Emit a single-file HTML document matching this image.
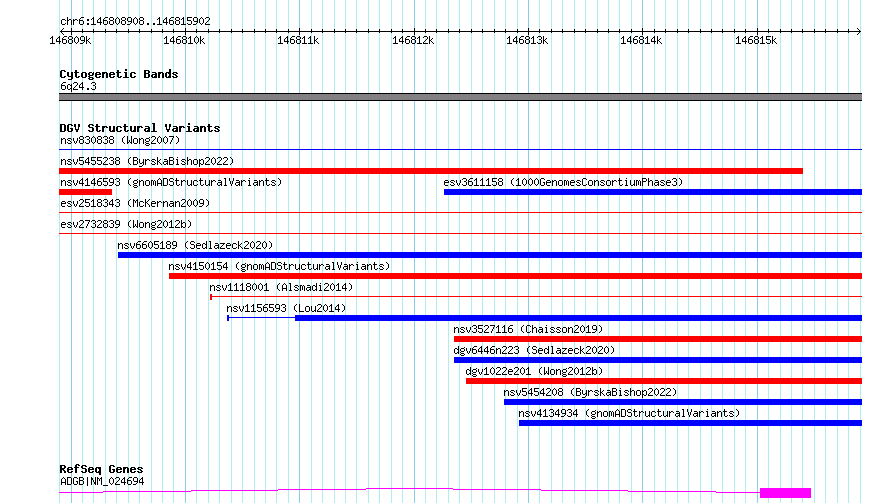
<!DOCTYPE html>
<html><head><meta charset="utf-8"><style>
html,body{margin:0;padding:0;background:#fff;width:890px;height:503px;overflow:hidden}
svg{display:block}
text{font-family:"Liberation Mono",monospace;font-size:11.75px;fill:#000}
text.h{fill-opacity:0}
text.b{font-weight:bold;font-size:11.75px}
</style></head><body>
<svg width="890" height="503" viewBox="0 0 890 503" shape-rendering="crispEdges" style="text-rendering:geometricPrecision">
<defs><path id="g40" d="M3 2h1v1h-1zM2 3h1v1h-1zM1 4h1v1h-1zM1 5h1v1h-1zM1 6h1v1h-1zM1 7h1v1h-1zM2 8h1v1h-1zM3 9h1v1h-1z"/><path id="g41" d="M1 2h1v1h-1zM2 3h1v1h-1zM3 4h1v1h-1zM3 5h1v1h-1zM3 6h1v1h-1zM3 7h1v1h-1zM2 8h1v1h-1zM1 9h1v1h-1z"/><path id="g46" d="M2 8h2v1h-2zM2 9h2v1h-2z"/><path id="g48" d="M2 2h1v1h-1zM1 3h1v1h-1zM3 3h1v1h-1zM0 4h1v1h-1zM4 4h1v1h-1zM0 5h1v1h-1zM4 5h1v1h-1zM0 6h1v1h-1zM4 6h1v1h-1zM0 7h1v1h-1zM4 7h1v1h-1zM1 8h1v1h-1zM3 8h1v1h-1zM2 9h1v1h-1z"/><path id="g49" d="M2 2h1v1h-1zM1 3h2v1h-2zM0 4h1v1h-1zM2 4h1v1h-1zM2 5h1v1h-1zM2 6h1v1h-1zM2 7h1v1h-1zM2 8h1v1h-1zM0 9h5v1h-5z"/><path id="g50" d="M1 2h3v1h-3zM0 3h1v1h-1zM4 3h1v1h-1zM4 4h1v1h-1zM3 5h1v1h-1zM2 6h1v1h-1zM1 7h1v1h-1zM0 8h1v1h-1zM0 9h5v1h-5z"/><path id="g51" d="M1 2h3v1h-3zM0 3h1v1h-1zM4 3h1v1h-1zM4 4h1v1h-1zM2 5h2v1h-2zM4 6h1v1h-1zM4 7h1v1h-1zM0 8h1v1h-1zM4 8h1v1h-1zM1 9h3v1h-3z"/><path id="g52" d="M3 2h1v1h-1zM2 3h2v1h-2zM1 4h1v1h-1zM3 4h1v1h-1zM0 5h1v1h-1zM3 5h1v1h-1zM0 6h1v1h-1zM3 6h1v1h-1zM0 7h5v1h-5zM3 8h1v1h-1zM3 9h1v1h-1z"/><path id="g53" d="M0 2h5v1h-5zM0 3h1v1h-1zM0 4h1v1h-1zM0 5h4v1h-4zM4 6h1v1h-1zM4 7h1v1h-1zM0 8h1v1h-1zM4 8h1v1h-1zM1 9h3v1h-3z"/><path id="g54" d="M2 2h3v1h-3zM1 3h1v1h-1zM0 4h1v1h-1zM0 5h4v1h-4zM0 6h1v1h-1zM4 6h1v1h-1zM0 7h1v1h-1zM4 7h1v1h-1zM0 8h1v1h-1zM4 8h1v1h-1zM1 9h3v1h-3z"/><path id="g55" d="M0 2h5v1h-5zM4 3h1v1h-1zM3 4h1v1h-1zM3 5h1v1h-1zM2 6h1v1h-1zM2 7h1v1h-1zM1 8h1v1h-1zM1 9h1v1h-1z"/><path id="g56" d="M1 2h3v1h-3zM0 3h1v1h-1zM4 3h1v1h-1zM0 4h1v1h-1zM4 4h1v1h-1zM1 5h3v1h-3zM0 6h1v1h-1zM4 6h1v1h-1zM0 7h1v1h-1zM4 7h1v1h-1zM0 8h1v1h-1zM4 8h1v1h-1zM1 9h3v1h-3z"/><path id="g57" d="M1 2h3v1h-3zM0 3h1v1h-1zM4 3h1v1h-1zM0 4h1v1h-1zM4 4h1v1h-1zM0 5h1v1h-1zM4 5h1v1h-1zM1 6h4v1h-4zM4 7h1v1h-1zM3 8h1v1h-1zM0 9h3v1h-3z"/><path id="g58" d="M2 4h2v1h-2zM2 5h2v1h-2zM2 8h2v1h-2zM2 9h2v1h-2z"/><path id="g65" d="M2 2h1v1h-1zM1 3h1v1h-1zM3 3h1v1h-1zM0 4h1v1h-1zM4 4h1v1h-1zM0 5h1v1h-1zM4 5h1v1h-1zM0 6h1v1h-1zM4 6h1v1h-1zM0 7h5v1h-5zM0 8h1v1h-1zM4 8h1v1h-1zM0 9h1v1h-1zM4 9h1v1h-1z"/><path id="g66" d="M0 2h4v1h-4zM0 3h1v1h-1zM4 3h1v1h-1zM0 4h1v1h-1zM4 4h1v1h-1zM0 5h4v1h-4zM0 6h1v1h-1zM4 6h1v1h-1zM0 7h1v1h-1zM4 7h1v1h-1zM0 8h1v1h-1zM4 8h1v1h-1zM0 9h4v1h-4z"/><path id="g67" d="M1 2h3v1h-3zM0 3h1v1h-1zM4 3h1v1h-1zM0 4h1v1h-1zM0 5h1v1h-1zM0 6h1v1h-1zM0 7h1v1h-1zM0 8h1v1h-1zM4 8h1v1h-1zM1 9h3v1h-3z"/><path id="g68" d="M0 2h4v1h-4zM0 3h1v1h-1zM4 3h1v1h-1zM0 4h1v1h-1zM4 4h1v1h-1zM0 5h1v1h-1zM4 5h1v1h-1zM0 6h1v1h-1zM4 6h1v1h-1zM0 7h1v1h-1zM4 7h1v1h-1zM0 8h1v1h-1zM4 8h1v1h-1zM0 9h4v1h-4z"/><path id="g71" d="M1 2h3v1h-3zM0 3h1v1h-1zM4 3h1v1h-1zM0 4h1v1h-1zM0 5h1v1h-1zM0 6h1v1h-1zM3 6h2v1h-2zM0 7h1v1h-1zM4 7h1v1h-1zM0 8h1v1h-1zM4 8h1v1h-1zM1 9h3v1h-3z"/><path id="g75" d="M0 2h1v1h-1zM4 2h1v1h-1zM0 3h1v1h-1zM3 3h1v1h-1zM0 4h1v1h-1zM2 4h1v1h-1zM0 5h2v1h-2zM0 6h1v1h-1zM2 6h1v1h-1zM0 7h1v1h-1zM3 7h1v1h-1zM0 8h1v1h-1zM4 8h1v1h-1zM0 9h1v1h-1zM4 9h1v1h-1z"/><path id="g76" d="M0 2h1v1h-1zM0 3h1v1h-1zM0 4h1v1h-1zM0 5h1v1h-1zM0 6h1v1h-1zM0 7h1v1h-1zM0 8h1v1h-1zM0 9h5v1h-5z"/><path id="g77" d="M0 2h1v1h-1zM4 2h1v1h-1zM0 3h2v1h-2zM3 3h2v1h-2zM0 4h1v1h-1zM2 4h1v1h-1zM4 4h1v1h-1zM0 5h1v1h-1zM2 5h1v1h-1zM4 5h1v1h-1zM0 6h1v1h-1zM4 6h1v1h-1zM0 7h1v1h-1zM4 7h1v1h-1zM0 8h1v1h-1zM4 8h1v1h-1zM0 9h1v1h-1zM4 9h1v1h-1z"/><path id="g78" d="M0 2h1v1h-1zM4 2h1v1h-1zM0 3h2v1h-2zM4 3h1v1h-1zM0 4h2v1h-2zM4 4h1v1h-1zM0 5h1v1h-1zM2 5h1v1h-1zM4 5h1v1h-1zM0 6h1v1h-1zM2 6h1v1h-1zM4 6h1v1h-1zM0 7h1v1h-1zM3 7h2v1h-2zM0 8h1v1h-1zM3 8h2v1h-2zM0 9h1v1h-1zM4 9h1v1h-1z"/><path id="g80" d="M0 2h4v1h-4zM0 3h1v1h-1zM4 3h1v1h-1zM0 4h1v1h-1zM4 4h1v1h-1zM0 5h4v1h-4zM0 6h1v1h-1zM0 7h1v1h-1zM0 8h1v1h-1zM0 9h1v1h-1z"/><path id="g83" d="M1 2h3v1h-3zM0 3h1v1h-1zM4 3h1v1h-1zM0 4h1v1h-1zM1 5h3v1h-3zM4 6h1v1h-1zM4 7h1v1h-1zM0 8h1v1h-1zM4 8h1v1h-1zM1 9h3v1h-3z"/><path id="g86" d="M0 2h1v1h-1zM4 2h1v1h-1zM0 3h1v1h-1zM4 3h1v1h-1zM0 4h1v1h-1zM4 4h1v1h-1zM1 5h1v1h-1zM3 5h1v1h-1zM1 6h1v1h-1zM3 6h1v1h-1zM1 7h1v1h-1zM3 7h1v1h-1zM2 8h1v1h-1zM2 9h1v1h-1z"/><path id="g87" d="M0 2h1v1h-1zM4 2h1v1h-1zM0 3h1v1h-1zM4 3h1v1h-1zM0 4h1v1h-1zM4 4h1v1h-1zM0 5h1v1h-1zM4 5h1v1h-1zM0 6h1v1h-1zM2 6h1v1h-1zM4 6h1v1h-1zM0 7h1v1h-1zM2 7h1v1h-1zM4 7h1v1h-1zM0 8h2v1h-2zM3 8h2v1h-2zM0 9h1v1h-1zM4 9h1v1h-1z"/><path id="g95" d="M0 10h5v1h-5z"/><path id="g97" d="M1 4h3v1h-3zM4 5h1v1h-1zM1 6h4v1h-4zM0 7h1v1h-1zM4 7h1v1h-1zM0 8h1v1h-1zM3 8h2v1h-2zM1 9h2v1h-2zM4 9h1v1h-1z"/><path id="g98" d="M0 2h1v1h-1zM0 3h1v1h-1zM0 4h1v1h-1zM2 4h2v1h-2zM0 5h2v1h-2zM4 5h1v1h-1zM0 6h1v1h-1zM4 6h1v1h-1zM0 7h1v1h-1zM4 7h1v1h-1zM0 8h2v1h-2zM4 8h1v1h-1zM0 9h1v1h-1zM2 9h2v1h-2z"/><path id="g99" d="M1 4h3v1h-3zM0 5h1v1h-1zM4 5h1v1h-1zM0 6h1v1h-1zM0 7h1v1h-1zM0 8h1v1h-1zM4 8h1v1h-1zM1 9h3v1h-3z"/><path id="g100" d="M4 2h1v1h-1zM4 3h1v1h-1zM1 4h2v1h-2zM4 4h1v1h-1zM0 5h1v1h-1zM3 5h2v1h-2zM0 6h1v1h-1zM4 6h1v1h-1zM0 7h1v1h-1zM4 7h1v1h-1zM0 8h1v1h-1zM3 8h2v1h-2zM1 9h2v1h-2zM4 9h1v1h-1z"/><path id="g101" d="M1 4h3v1h-3zM0 5h1v1h-1zM4 5h1v1h-1zM0 6h5v1h-5zM0 7h1v1h-1zM0 8h1v1h-1zM1 9h3v1h-3z"/><path id="g103" d="M4 3h1v1h-1zM1 4h3v1h-3zM0 5h1v1h-1zM4 5h1v1h-1zM0 6h1v1h-1zM4 6h1v1h-1zM1 7h3v1h-3zM0 8h1v1h-1zM1 9h3v1h-3zM0 10h1v1h-1zM4 10h1v1h-1zM1 11h3v1h-3z"/><path id="g104" d="M0 2h1v1h-1zM0 3h1v1h-1zM0 4h1v1h-1zM2 4h2v1h-2zM0 5h2v1h-2zM4 5h1v1h-1zM0 6h1v1h-1zM4 6h1v1h-1zM0 7h1v1h-1zM4 7h1v1h-1zM0 8h1v1h-1zM4 8h1v1h-1zM0 9h1v1h-1zM4 9h1v1h-1z"/><path id="g105" d="M2 2h1v1h-1zM1 4h2v1h-2zM2 5h1v1h-1zM2 6h1v1h-1zM2 7h1v1h-1zM2 8h1v1h-1zM1 9h3v1h-3z"/><path id="g107" d="M0 2h1v1h-1zM0 3h1v1h-1zM0 4h1v1h-1zM3 4h1v1h-1zM0 5h1v1h-1zM2 5h1v1h-1zM0 6h2v1h-2zM0 7h1v1h-1zM2 7h1v1h-1zM0 8h1v1h-1zM3 8h1v1h-1zM0 9h1v1h-1zM4 9h1v1h-1z"/><path id="g108" d="M1 2h2v1h-2zM2 3h1v1h-1zM2 4h1v1h-1zM2 5h1v1h-1zM2 6h1v1h-1zM2 7h1v1h-1zM2 8h1v1h-1zM1 9h3v1h-3z"/><path id="g109" d="M0 4h2v1h-2zM3 4h1v1h-1zM0 5h1v1h-1zM2 5h1v1h-1zM4 5h1v1h-1zM0 6h1v1h-1zM2 6h1v1h-1zM4 6h1v1h-1zM0 7h1v1h-1zM2 7h1v1h-1zM4 7h1v1h-1zM0 8h1v1h-1zM2 8h1v1h-1zM4 8h1v1h-1zM0 9h1v1h-1zM4 9h1v1h-1z"/><path id="g110" d="M0 4h1v1h-1zM2 4h2v1h-2zM0 5h2v1h-2zM4 5h1v1h-1zM0 6h1v1h-1zM4 6h1v1h-1zM0 7h1v1h-1zM4 7h1v1h-1zM0 8h1v1h-1zM4 8h1v1h-1zM0 9h1v1h-1zM4 9h1v1h-1z"/><path id="g111" d="M1 4h3v1h-3zM0 5h1v1h-1zM4 5h1v1h-1zM0 6h1v1h-1zM4 6h1v1h-1zM0 7h1v1h-1zM4 7h1v1h-1zM0 8h1v1h-1zM4 8h1v1h-1zM1 9h3v1h-3z"/><path id="g112" d="M0 4h1v1h-1zM2 4h2v1h-2zM0 5h2v1h-2zM4 5h1v1h-1zM0 6h1v1h-1zM4 6h1v1h-1zM0 7h1v1h-1zM4 7h1v1h-1zM0 8h2v1h-2zM4 8h1v1h-1zM0 9h1v1h-1zM2 9h2v1h-2zM0 10h1v1h-1zM0 11h1v1h-1z"/><path id="g113" d="M1 4h2v1h-2zM4 4h1v1h-1zM0 5h1v1h-1zM3 5h2v1h-2zM0 6h1v1h-1zM4 6h1v1h-1zM0 7h1v1h-1zM4 7h1v1h-1zM0 8h1v1h-1zM3 8h2v1h-2zM1 9h2v1h-2zM4 9h1v1h-1zM4 10h1v1h-1zM4 11h1v1h-1z"/><path id="g114" d="M0 4h1v1h-1zM2 4h2v1h-2zM0 5h2v1h-2zM4 5h1v1h-1zM0 6h1v1h-1zM0 7h1v1h-1zM0 8h1v1h-1zM0 9h1v1h-1z"/><path id="g115" d="M1 4h3v1h-3zM0 5h1v1h-1zM4 5h1v1h-1zM1 6h2v1h-2zM3 7h1v1h-1zM0 8h1v1h-1zM4 8h1v1h-1zM1 9h3v1h-3z"/><path id="g116" d="M1 2h1v1h-1zM1 3h1v1h-1zM0 4h4v1h-4zM1 5h1v1h-1zM1 6h1v1h-1zM1 7h1v1h-1zM1 8h1v1h-1zM4 8h1v1h-1zM2 9h2v1h-2z"/><path id="g117" d="M0 4h1v1h-1zM4 4h1v1h-1zM0 5h1v1h-1zM4 5h1v1h-1zM0 6h1v1h-1zM4 6h1v1h-1zM0 7h1v1h-1zM4 7h1v1h-1zM0 8h1v1h-1zM3 8h2v1h-2zM1 9h2v1h-2zM4 9h1v1h-1z"/><path id="g118" d="M0 4h1v1h-1zM4 4h1v1h-1zM0 5h1v1h-1zM4 5h1v1h-1zM0 6h1v1h-1zM4 6h1v1h-1zM1 7h1v1h-1zM3 7h1v1h-1zM1 8h1v1h-1zM3 8h1v1h-1zM2 9h1v1h-1z"/><path id="g121" d="M0 4h1v1h-1zM4 4h1v1h-1zM0 5h1v1h-1zM4 5h1v1h-1zM0 6h1v1h-1zM4 6h1v1h-1zM0 7h1v1h-1zM3 7h2v1h-2zM1 8h2v1h-2zM4 8h1v1h-1zM4 9h1v1h-1zM3 10h1v1h-1zM0 11h3v1h-3z"/><path id="g122" d="M0 4h5v1h-5zM3 5h1v1h-1zM2 6h1v1h-1zM1 7h1v1h-1zM0 8h1v1h-1zM0 9h5v1h-5z"/><path id="g124" d="M2 2h1v1h-1zM2 3h1v1h-1zM2 4h1v1h-1zM2 5h1v1h-1zM2 6h1v1h-1zM2 7h1v1h-1zM2 8h1v1h-1zM2 9h1v1h-1zM2 10h1v1h-1z"/><path id="b66" d="M0 2h5v1h-5zM0 3h2v1h-2zM4 3h2v1h-2zM0 4h2v1h-2zM4 4h2v1h-2zM0 5h5v1h-5zM0 6h2v1h-2zM4 6h2v1h-2zM0 7h2v1h-2zM4 7h2v1h-2zM0 8h2v1h-2zM4 8h2v1h-2zM0 9h5v1h-5z"/><path id="b67" d="M1 2h4v1h-4zM0 3h2v1h-2zM4 3h2v1h-2zM0 4h2v1h-2zM0 5h2v1h-2zM0 6h2v1h-2zM0 7h2v1h-2zM0 8h2v1h-2zM4 8h2v1h-2zM1 9h4v1h-4z"/><path id="b68" d="M0 2h5v1h-5zM0 3h2v1h-2zM4 3h2v1h-2zM0 4h2v1h-2zM4 4h2v1h-2zM0 5h2v1h-2zM4 5h2v1h-2zM0 6h2v1h-2zM4 6h2v1h-2zM0 7h2v1h-2zM4 7h2v1h-2zM0 8h2v1h-2zM4 8h2v1h-2zM0 9h5v1h-5z"/><path id="b71" d="M1 2h4v1h-4zM0 3h2v1h-2zM4 3h2v1h-2zM0 4h2v1h-2zM0 5h2v1h-2zM0 6h2v1h-2zM3 6h3v1h-3zM0 7h2v1h-2zM4 7h2v1h-2zM0 8h2v1h-2zM4 8h2v1h-2zM1 9h4v1h-4z"/><path id="b82" d="M0 2h5v1h-5zM0 3h2v1h-2zM4 3h2v1h-2zM0 4h2v1h-2zM4 4h2v1h-2zM0 5h5v1h-5zM0 6h4v1h-4zM0 7h2v1h-2zM3 7h2v1h-2zM0 8h2v1h-2zM4 8h2v1h-2zM0 9h2v1h-2zM4 9h2v1h-2z"/><path id="b83" d="M1 2h4v1h-4zM0 3h2v1h-2zM4 3h2v1h-2zM0 4h2v1h-2zM1 5h4v1h-4zM4 6h2v1h-2zM4 7h2v1h-2zM0 8h2v1h-2zM4 8h2v1h-2zM1 9h4v1h-4z"/><path id="b86" d="M0 2h2v1h-2zM4 2h2v1h-2zM0 3h2v1h-2zM4 3h2v1h-2zM0 4h2v1h-2zM4 4h2v1h-2zM1 5h1v1h-1zM4 5h1v1h-1zM1 6h1v1h-1zM4 6h1v1h-1zM1 7h4v1h-4zM2 8h2v1h-2zM2 9h2v1h-2z"/><path id="b97" d="M1 4h4v1h-4zM4 5h2v1h-2zM1 6h5v1h-5zM0 7h2v1h-2zM4 7h2v1h-2zM0 8h2v1h-2zM3 8h3v1h-3zM1 9h5v1h-5z"/><path id="b99" d="M1 4h4v1h-4zM0 5h2v1h-2zM4 5h2v1h-2zM0 6h2v1h-2zM0 7h2v1h-2zM0 8h2v1h-2zM4 8h2v1h-2zM1 9h4v1h-4z"/><path id="b100" d="M4 1h2v1h-2zM4 2h2v1h-2zM4 3h2v1h-2zM1 4h5v1h-5zM0 5h2v1h-2zM3 5h3v1h-3zM0 6h2v1h-2zM4 6h2v1h-2zM0 7h2v1h-2zM4 7h2v1h-2zM0 8h2v1h-2zM3 8h3v1h-3zM1 9h5v1h-5z"/><path id="b101" d="M1 4h4v1h-4zM0 5h2v1h-2zM4 5h2v1h-2zM0 6h6v1h-6zM0 7h2v1h-2zM0 8h2v1h-2zM4 8h2v1h-2zM1 9h4v1h-4z"/><path id="b102" d="M2 1h3v1h-3zM1 2h2v1h-2zM4 2h2v1h-2zM1 3h2v1h-2zM0 4h5v1h-5zM1 5h2v1h-2zM1 6h2v1h-2zM1 7h2v1h-2zM1 8h2v1h-2zM1 9h2v1h-2z"/><path id="b103" d="M1 4h3v1h-3zM5 4h1v1h-1zM0 5h2v1h-2zM4 5h2v1h-2zM0 6h2v1h-2zM4 6h2v1h-2zM1 7h4v1h-4zM0 8h2v1h-2zM1 9h4v1h-4zM0 10h2v1h-2zM4 10h2v1h-2zM1 11h4v1h-4z"/><path id="b105" d="M2 1h2v1h-2zM2 2h2v1h-2zM1 4h3v1h-3zM2 5h2v1h-2zM2 6h2v1h-2zM2 7h2v1h-2zM2 8h2v1h-2zM0 9h6v1h-6z"/><path id="b108" d="M1 1h3v1h-3zM2 2h2v1h-2zM2 3h2v1h-2zM2 4h2v1h-2zM2 5h2v1h-2zM2 6h2v1h-2zM2 7h2v1h-2zM2 8h2v1h-2zM0 9h6v1h-6z"/><path id="b110" d="M0 4h5v1h-5zM0 5h3v1h-3zM4 5h2v1h-2zM0 6h2v1h-2zM4 6h2v1h-2zM0 7h2v1h-2zM4 7h2v1h-2zM0 8h2v1h-2zM4 8h2v1h-2zM0 9h2v1h-2zM4 9h2v1h-2z"/><path id="b111" d="M1 4h4v1h-4zM0 5h2v1h-2zM4 5h2v1h-2zM0 6h2v1h-2zM4 6h2v1h-2zM0 7h2v1h-2zM4 7h2v1h-2zM0 8h2v1h-2zM4 8h2v1h-2zM1 9h4v1h-4z"/><path id="b113" d="M1 4h5v1h-5zM0 5h2v1h-2zM3 5h3v1h-3zM0 6h2v1h-2zM4 6h2v1h-2zM0 7h2v1h-2zM4 7h2v1h-2zM0 8h2v1h-2zM3 8h3v1h-3zM1 9h5v1h-5zM4 10h2v1h-2zM4 11h2v1h-2z"/><path id="b114" d="M0 4h5v1h-5zM0 5h3v1h-3zM4 5h2v1h-2zM0 6h2v1h-2zM0 7h2v1h-2zM0 8h2v1h-2zM0 9h2v1h-2z"/><path id="b115" d="M1 4h4v1h-4zM0 5h2v1h-2zM4 5h2v1h-2zM1 6h3v1h-3zM3 7h2v1h-2zM0 8h2v1h-2zM4 8h2v1h-2zM1 9h4v1h-4z"/><path id="b116" d="M1 2h2v1h-2zM1 3h2v1h-2zM0 4h5v1h-5zM1 5h2v1h-2zM1 6h2v1h-2zM1 7h2v1h-2zM1 8h2v1h-2zM4 8h2v1h-2zM2 9h3v1h-3z"/><path id="b117" d="M0 4h2v1h-2zM4 4h2v1h-2zM0 5h2v1h-2zM4 5h2v1h-2zM0 6h2v1h-2zM4 6h2v1h-2zM0 7h2v1h-2zM4 7h2v1h-2zM0 8h2v1h-2zM3 8h3v1h-3zM1 9h5v1h-5z"/><path id="b121" d="M0 4h2v1h-2zM4 4h2v1h-2zM0 5h2v1h-2zM4 5h2v1h-2zM0 6h2v1h-2zM4 6h2v1h-2zM0 7h2v1h-2zM4 7h2v1h-2zM1 8h5v1h-5zM4 9h2v1h-2zM4 10h2v1h-2zM1 11h4v1h-4z"/></defs>
<rect x="0" y="0" width="890" height="503" fill="#fff"/>
<rect x="59" y="0" width="1" height="503" fill="#afeeee"/><rect x="71" y="0" width="1" height="503" fill="#87ceeb"/><rect x="82" y="0" width="1" height="503" fill="#afeeee"/><rect x="93" y="0" width="1" height="503" fill="#afeeee"/><rect x="105" y="0" width="1" height="503" fill="#afeeee"/><rect x="116" y="0" width="1" height="503" fill="#afeeee"/><rect x="128" y="0" width="1" height="503" fill="#afeeee"/><rect x="139" y="0" width="1" height="503" fill="#afeeee"/><rect x="151" y="0" width="1" height="503" fill="#afeeee"/><rect x="162" y="0" width="1" height="503" fill="#afeeee"/><rect x="173" y="0" width="1" height="503" fill="#afeeee"/><rect x="185" y="0" width="1" height="503" fill="#87ceeb"/><rect x="196" y="0" width="1" height="503" fill="#afeeee"/><rect x="208" y="0" width="1" height="503" fill="#afeeee"/><rect x="219" y="0" width="1" height="503" fill="#afeeee"/><rect x="231" y="0" width="1" height="503" fill="#afeeee"/><rect x="242" y="0" width="1" height="503" fill="#afeeee"/><rect x="254" y="0" width="1" height="503" fill="#afeeee"/><rect x="265" y="0" width="1" height="503" fill="#afeeee"/><rect x="276" y="0" width="1" height="503" fill="#afeeee"/><rect x="288" y="0" width="1" height="503" fill="#afeeee"/><rect x="299" y="0" width="1" height="503" fill="#87ceeb"/><rect x="311" y="0" width="1" height="503" fill="#afeeee"/><rect x="322" y="0" width="1" height="503" fill="#afeeee"/><rect x="334" y="0" width="1" height="503" fill="#afeeee"/><rect x="345" y="0" width="1" height="503" fill="#afeeee"/><rect x="356" y="0" width="1" height="503" fill="#afeeee"/><rect x="368" y="0" width="1" height="503" fill="#afeeee"/><rect x="379" y="0" width="1" height="503" fill="#afeeee"/><rect x="391" y="0" width="1" height="503" fill="#afeeee"/><rect x="402" y="0" width="1" height="503" fill="#afeeee"/><rect x="414" y="0" width="1" height="503" fill="#87ceeb"/><rect x="425" y="0" width="1" height="503" fill="#afeeee"/><rect x="436" y="0" width="1" height="503" fill="#afeeee"/><rect x="448" y="0" width="1" height="503" fill="#afeeee"/><rect x="459" y="0" width="1" height="503" fill="#afeeee"/><rect x="471" y="0" width="1" height="503" fill="#afeeee"/><rect x="482" y="0" width="1" height="503" fill="#afeeee"/><rect x="494" y="0" width="1" height="503" fill="#afeeee"/><rect x="505" y="0" width="1" height="503" fill="#afeeee"/><rect x="517" y="0" width="1" height="503" fill="#afeeee"/><rect x="528" y="0" width="1" height="503" fill="#87ceeb"/><rect x="539" y="0" width="1" height="503" fill="#afeeee"/><rect x="551" y="0" width="1" height="503" fill="#afeeee"/><rect x="562" y="0" width="1" height="503" fill="#afeeee"/><rect x="574" y="0" width="1" height="503" fill="#afeeee"/><rect x="585" y="0" width="1" height="503" fill="#afeeee"/><rect x="597" y="0" width="1" height="503" fill="#afeeee"/><rect x="608" y="0" width="1" height="503" fill="#afeeee"/><rect x="619" y="0" width="1" height="503" fill="#afeeee"/><rect x="631" y="0" width="1" height="503" fill="#afeeee"/><rect x="642" y="0" width="1" height="503" fill="#87ceeb"/><rect x="654" y="0" width="1" height="503" fill="#afeeee"/><rect x="665" y="0" width="1" height="503" fill="#afeeee"/><rect x="677" y="0" width="1" height="503" fill="#afeeee"/><rect x="688" y="0" width="1" height="503" fill="#afeeee"/><rect x="700" y="0" width="1" height="503" fill="#afeeee"/><rect x="711" y="0" width="1" height="503" fill="#afeeee"/><rect x="722" y="0" width="1" height="503" fill="#afeeee"/><rect x="734" y="0" width="1" height="503" fill="#afeeee"/><rect x="745" y="0" width="1" height="503" fill="#afeeee"/><rect x="757" y="0" width="1" height="503" fill="#87ceeb"/><rect x="768" y="0" width="1" height="503" fill="#afeeee"/><rect x="780" y="0" width="1" height="503" fill="#afeeee"/><rect x="791" y="0" width="1" height="503" fill="#afeeee"/><rect x="802" y="0" width="1" height="503" fill="#afeeee"/><rect x="814" y="0" width="1" height="503" fill="#afeeee"/><rect x="825" y="0" width="1" height="503" fill="#afeeee"/><rect x="837" y="0" width="1" height="503" fill="#afeeee"/><rect x="848" y="0" width="1" height="503" fill="#afeeee"/><rect x="860" y="0" width="1" height="503" fill="#afeeee"/><rect x="60" y="31" width="801" height="1" fill="#000"/><rect x="71" y="28" width="1" height="7" fill="#000"/><rect x="82" y="29" width="1" height="4" fill="#000"/><rect x="93" y="29" width="1" height="4" fill="#000"/><rect x="105" y="29" width="1" height="4" fill="#000"/><rect x="116" y="29" width="1" height="4" fill="#000"/><rect x="128" y="29" width="1" height="4" fill="#000"/><rect x="139" y="29" width="1" height="4" fill="#000"/><rect x="151" y="29" width="1" height="4" fill="#000"/><rect x="162" y="29" width="1" height="4" fill="#000"/><rect x="173" y="29" width="1" height="4" fill="#000"/><rect x="185" y="28" width="1" height="7" fill="#000"/><rect x="196" y="29" width="1" height="4" fill="#000"/><rect x="208" y="29" width="1" height="4" fill="#000"/><rect x="219" y="29" width="1" height="4" fill="#000"/><rect x="231" y="29" width="1" height="4" fill="#000"/><rect x="242" y="29" width="1" height="4" fill="#000"/><rect x="254" y="29" width="1" height="4" fill="#000"/><rect x="265" y="29" width="1" height="4" fill="#000"/><rect x="276" y="29" width="1" height="4" fill="#000"/><rect x="288" y="29" width="1" height="4" fill="#000"/><rect x="299" y="28" width="1" height="7" fill="#000"/><rect x="311" y="29" width="1" height="4" fill="#000"/><rect x="322" y="29" width="1" height="4" fill="#000"/><rect x="334" y="29" width="1" height="4" fill="#000"/><rect x="345" y="29" width="1" height="4" fill="#000"/><rect x="356" y="29" width="1" height="4" fill="#000"/><rect x="368" y="29" width="1" height="4" fill="#000"/><rect x="379" y="29" width="1" height="4" fill="#000"/><rect x="391" y="29" width="1" height="4" fill="#000"/><rect x="402" y="29" width="1" height="4" fill="#000"/><rect x="414" y="28" width="1" height="7" fill="#000"/><rect x="425" y="29" width="1" height="4" fill="#000"/><rect x="436" y="29" width="1" height="4" fill="#000"/><rect x="448" y="29" width="1" height="4" fill="#000"/><rect x="459" y="29" width="1" height="4" fill="#000"/><rect x="471" y="29" width="1" height="4" fill="#000"/><rect x="482" y="29" width="1" height="4" fill="#000"/><rect x="494" y="29" width="1" height="4" fill="#000"/><rect x="505" y="29" width="1" height="4" fill="#000"/><rect x="517" y="29" width="1" height="4" fill="#000"/><rect x="528" y="28" width="1" height="7" fill="#000"/><rect x="539" y="29" width="1" height="4" fill="#000"/><rect x="551" y="29" width="1" height="4" fill="#000"/><rect x="562" y="29" width="1" height="4" fill="#000"/><rect x="574" y="29" width="1" height="4" fill="#000"/><rect x="585" y="29" width="1" height="4" fill="#000"/><rect x="597" y="29" width="1" height="4" fill="#000"/><rect x="608" y="29" width="1" height="4" fill="#000"/><rect x="619" y="29" width="1" height="4" fill="#000"/><rect x="631" y="29" width="1" height="4" fill="#000"/><rect x="642" y="28" width="1" height="7" fill="#000"/><rect x="654" y="29" width="1" height="4" fill="#000"/><rect x="665" y="29" width="1" height="4" fill="#000"/><rect x="677" y="29" width="1" height="4" fill="#000"/><rect x="688" y="29" width="1" height="4" fill="#000"/><rect x="700" y="29" width="1" height="4" fill="#000"/><rect x="711" y="29" width="1" height="4" fill="#000"/><rect x="722" y="29" width="1" height="4" fill="#000"/><rect x="734" y="29" width="1" height="4" fill="#000"/><rect x="745" y="29" width="1" height="4" fill="#000"/><rect x="757" y="28" width="1" height="7" fill="#000"/><rect x="768" y="29" width="1" height="4" fill="#000"/><rect x="780" y="29" width="1" height="4" fill="#000"/><rect x="791" y="29" width="1" height="4" fill="#000"/><rect x="802" y="29" width="1" height="4" fill="#000"/><rect x="814" y="29" width="1" height="4" fill="#000"/><rect x="825" y="29" width="1" height="4" fill="#000"/><rect x="837" y="29" width="1" height="4" fill="#000"/><rect x="848" y="29" width="1" height="4" fill="#000"/><rect x="61" y="30" width="1" height="1" fill="#000"/><rect x="61" y="32" width="1" height="1" fill="#000"/><rect x="859" y="30" width="1" height="1" fill="#000"/><rect x="859" y="32" width="1" height="1" fill="#000"/><rect x="62" y="29" width="1" height="1" fill="#000"/><rect x="62" y="33" width="1" height="1" fill="#000"/><rect x="858" y="29" width="1" height="1" fill="#000"/><rect x="858" y="33" width="1" height="1" fill="#000"/><rect x="63" y="28" width="1" height="1" fill="#000"/><rect x="63" y="34" width="1" height="1" fill="#000"/><rect x="857" y="28" width="1" height="1" fill="#000"/><rect x="857" y="34" width="1" height="1" fill="#000"/><rect x="59" y="93" width="803" height="8" fill="#000"/><rect x="59" y="94" width="803" height="6" fill="#838083"/><rect x="59" y="149" width="803" height="1" fill="#0000ff"/><rect x="59" y="168" width="744" height="6" fill="#ff0000"/><rect x="59" y="189" width="53" height="6" fill="#ff0000"/><rect x="444" y="189" width="418" height="6" fill="#0000ff"/><rect x="59" y="212" width="803" height="1" fill="#ff0000"/><rect x="59" y="233" width="803" height="1" fill="#ff0000"/><rect x="118" y="252" width="744" height="6" fill="#0000ff"/><rect x="169" y="273" width="693" height="6" fill="#ff0000"/><rect x="210" y="294" width="2" height="6" fill="#ff0000"/><rect x="212" y="296" width="650" height="1" fill="#ff0000"/><rect x="227" y="315" width="2" height="6" fill="#0000ff"/><rect x="229" y="317" width="66" height="1" fill="#0000ff"/><rect x="295" y="315" width="567" height="6" fill="#0000ff"/><rect x="454" y="336" width="408" height="6" fill="#ff0000"/><rect x="454" y="357" width="408" height="6" fill="#0000ff"/><rect x="466" y="378" width="396" height="6" fill="#ff0000"/><rect x="504" y="399" width="358" height="6" fill="#0000ff"/><rect x="519" y="420" width="343" height="6" fill="#0000ff"/><rect x="59" y="492" width="44" height="1" fill="#ff00ff"/><rect x="103" y="491" width="88" height="1" fill="#ff00ff"/><rect x="191" y="490" width="87" height="1" fill="#ff00ff"/><rect x="278" y="489" width="88" height="1" fill="#ff00ff"/><rect x="366" y="488" width="87" height="1" fill="#ff00ff"/><rect x="453" y="489" width="88" height="1" fill="#ff00ff"/><rect x="541" y="490" width="87" height="1" fill="#ff00ff"/><rect x="628" y="491" width="88" height="1" fill="#ff00ff"/><rect x="716" y="492" width="44" height="1" fill="#ff00ff"/><rect x="760" y="488" width="51" height="10" fill="#ff00ff"/>
<g fill="#000"><use href="#g99" x="61" y="15"/><use href="#g104" x="67" y="15"/><use href="#g114" x="73" y="15"/><use href="#g54" x="79" y="15"/><use href="#g58" x="85" y="15"/><use href="#g49" x="91" y="15"/><use href="#g52" x="97" y="15"/><use href="#g54" x="103" y="15"/><use href="#g56" x="109" y="15"/><use href="#g48" x="115" y="15"/><use href="#g56" x="121" y="15"/><use href="#g57" x="127" y="15"/><use href="#g48" x="133" y="15"/><use href="#g56" x="139" y="15"/><use href="#g46" x="145" y="15"/><use href="#g46" x="151" y="15"/><use href="#g49" x="157" y="15"/><use href="#g52" x="163" y="15"/><use href="#g54" x="169" y="15"/><use href="#g56" x="175" y="15"/><use href="#g49" x="181" y="15"/><use href="#g53" x="187" y="15"/><use href="#g57" x="193" y="15"/><use href="#g48" x="199" y="15"/><use href="#g50" x="205" y="15"/><use href="#g49" x="50" y="34"/><use href="#g52" x="56" y="34"/><use href="#g54" x="62" y="34"/><use href="#g56" x="68" y="34"/><use href="#g48" x="74" y="34"/><use href="#g57" x="80" y="34"/><use href="#g107" x="86" y="34"/><use href="#g49" x="164" y="34"/><use href="#g52" x="170" y="34"/><use href="#g54" x="176" y="34"/><use href="#g56" x="182" y="34"/><use href="#g49" x="188" y="34"/><use href="#g48" x="194" y="34"/><use href="#g107" x="200" y="34"/><use href="#g49" x="278" y="34"/><use href="#g52" x="284" y="34"/><use href="#g54" x="290" y="34"/><use href="#g56" x="296" y="34"/><use href="#g49" x="302" y="34"/><use href="#g49" x="308" y="34"/><use href="#g107" x="314" y="34"/><use href="#g49" x="393" y="34"/><use href="#g52" x="399" y="34"/><use href="#g54" x="405" y="34"/><use href="#g56" x="411" y="34"/><use href="#g49" x="417" y="34"/><use href="#g50" x="423" y="34"/><use href="#g107" x="429" y="34"/><use href="#g49" x="507" y="34"/><use href="#g52" x="513" y="34"/><use href="#g54" x="519" y="34"/><use href="#g56" x="525" y="34"/><use href="#g49" x="531" y="34"/><use href="#g51" x="537" y="34"/><use href="#g107" x="543" y="34"/><use href="#g49" x="621" y="34"/><use href="#g52" x="627" y="34"/><use href="#g54" x="633" y="34"/><use href="#g56" x="639" y="34"/><use href="#g49" x="645" y="34"/><use href="#g52" x="651" y="34"/><use href="#g107" x="657" y="34"/><use href="#g49" x="736" y="34"/><use href="#g52" x="742" y="34"/><use href="#g54" x="748" y="34"/><use href="#g56" x="754" y="34"/><use href="#g49" x="760" y="34"/><use href="#g53" x="766" y="34"/><use href="#g107" x="772" y="34"/><use href="#b67" x="60" y="68"/><use href="#b121" x="67" y="68"/><use href="#b116" x="74" y="68"/><use href="#b111" x="81" y="68"/><use href="#b103" x="88" y="68"/><use href="#b101" x="95" y="68"/><use href="#b110" x="102" y="68"/><use href="#b101" x="109" y="68"/><use href="#b116" x="116" y="68"/><use href="#b105" x="123" y="68"/><use href="#b99" x="130" y="68"/><use href="#b66" x="144" y="68"/><use href="#b97" x="151" y="68"/><use href="#b110" x="158" y="68"/><use href="#b100" x="165" y="68"/><use href="#b115" x="172" y="68"/><use href="#g54" x="61" y="80"/><use href="#g113" x="67" y="80"/><use href="#g50" x="73" y="80"/><use href="#g52" x="79" y="80"/><use href="#g46" x="85" y="80"/><use href="#g51" x="91" y="80"/><use href="#b68" x="60" y="122"/><use href="#b71" x="67" y="122"/><use href="#b86" x="74" y="122"/><use href="#b83" x="88" y="122"/><use href="#b116" x="95" y="122"/><use href="#b114" x="102" y="122"/><use href="#b117" x="109" y="122"/><use href="#b99" x="116" y="122"/><use href="#b116" x="123" y="122"/><use href="#b117" x="130" y="122"/><use href="#b114" x="137" y="122"/><use href="#b97" x="144" y="122"/><use href="#b108" x="151" y="122"/><use href="#b86" x="165" y="122"/><use href="#b97" x="172" y="122"/><use href="#b114" x="179" y="122"/><use href="#b105" x="186" y="122"/><use href="#b97" x="193" y="122"/><use href="#b110" x="200" y="122"/><use href="#b116" x="207" y="122"/><use href="#b115" x="214" y="122"/><use href="#g110" x="61" y="134"/><use href="#g115" x="67" y="134"/><use href="#g118" x="73" y="134"/><use href="#g56" x="79" y="134"/><use href="#g51" x="85" y="134"/><use href="#g48" x="91" y="134"/><use href="#g56" x="97" y="134"/><use href="#g51" x="103" y="134"/><use href="#g56" x="109" y="134"/><use href="#g40" x="121" y="134"/><use href="#g87" x="127" y="134"/><use href="#g111" x="133" y="134"/><use href="#g110" x="139" y="134"/><use href="#g103" x="145" y="134"/><use href="#g50" x="151" y="134"/><use href="#g48" x="157" y="134"/><use href="#g48" x="163" y="134"/><use href="#g55" x="169" y="134"/><use href="#g41" x="175" y="134"/><use href="#g110" x="61" y="155"/><use href="#g115" x="67" y="155"/><use href="#g118" x="73" y="155"/><use href="#g53" x="79" y="155"/><use href="#g52" x="85" y="155"/><use href="#g53" x="91" y="155"/><use href="#g53" x="97" y="155"/><use href="#g50" x="103" y="155"/><use href="#g51" x="109" y="155"/><use href="#g56" x="115" y="155"/><use href="#g40" x="127" y="155"/><use href="#g66" x="133" y="155"/><use href="#g121" x="139" y="155"/><use href="#g114" x="145" y="155"/><use href="#g115" x="151" y="155"/><use href="#g107" x="157" y="155"/><use href="#g97" x="163" y="155"/><use href="#g66" x="169" y="155"/><use href="#g105" x="175" y="155"/><use href="#g115" x="181" y="155"/><use href="#g104" x="187" y="155"/><use href="#g111" x="193" y="155"/><use href="#g112" x="199" y="155"/><use href="#g50" x="205" y="155"/><use href="#g48" x="211" y="155"/><use href="#g50" x="217" y="155"/><use href="#g50" x="223" y="155"/><use href="#g41" x="229" y="155"/><use href="#g110" x="61" y="176"/><use href="#g115" x="67" y="176"/><use href="#g118" x="73" y="176"/><use href="#g52" x="79" y="176"/><use href="#g49" x="85" y="176"/><use href="#g52" x="91" y="176"/><use href="#g54" x="97" y="176"/><use href="#g53" x="103" y="176"/><use href="#g57" x="109" y="176"/><use href="#g51" x="115" y="176"/><use href="#g40" x="127" y="176"/><use href="#g103" x="133" y="176"/><use href="#g110" x="139" y="176"/><use href="#g111" x="145" y="176"/><use href="#g109" x="151" y="176"/><use href="#g65" x="157" y="176"/><use href="#g68" x="163" y="176"/><use href="#g83" x="169" y="176"/><use href="#g116" x="175" y="176"/><use href="#g114" x="181" y="176"/><use href="#g117" x="187" y="176"/><use href="#g99" x="193" y="176"/><use href="#g116" x="199" y="176"/><use href="#g117" x="205" y="176"/><use href="#g114" x="211" y="176"/><use href="#g97" x="217" y="176"/><use href="#g108" x="223" y="176"/><use href="#g86" x="229" y="176"/><use href="#g97" x="235" y="176"/><use href="#g114" x="241" y="176"/><use href="#g105" x="247" y="176"/><use href="#g97" x="253" y="176"/><use href="#g110" x="259" y="176"/><use href="#g116" x="265" y="176"/><use href="#g115" x="271" y="176"/><use href="#g41" x="277" y="176"/><use href="#g101" x="444" y="176"/><use href="#g115" x="450" y="176"/><use href="#g118" x="456" y="176"/><use href="#g51" x="462" y="176"/><use href="#g54" x="468" y="176"/><use href="#g49" x="474" y="176"/><use href="#g49" x="480" y="176"/><use href="#g49" x="486" y="176"/><use href="#g53" x="492" y="176"/><use href="#g56" x="498" y="176"/><use href="#g40" x="510" y="176"/><use href="#g49" x="516" y="176"/><use href="#g48" x="522" y="176"/><use href="#g48" x="528" y="176"/><use href="#g48" x="534" y="176"/><use href="#g71" x="540" y="176"/><use href="#g101" x="546" y="176"/><use href="#g110" x="552" y="176"/><use href="#g111" x="558" y="176"/><use href="#g109" x="564" y="176"/><use href="#g101" x="570" y="176"/><use href="#g115" x="576" y="176"/><use href="#g67" x="582" y="176"/><use href="#g111" x="588" y="176"/><use href="#g110" x="594" y="176"/><use href="#g115" x="600" y="176"/><use href="#g111" x="606" y="176"/><use href="#g114" x="612" y="176"/><use href="#g116" x="618" y="176"/><use href="#g105" x="624" y="176"/><use href="#g117" x="630" y="176"/><use href="#g109" x="636" y="176"/><use href="#g80" x="642" y="176"/><use href="#g104" x="648" y="176"/><use href="#g97" x="654" y="176"/><use href="#g115" x="660" y="176"/><use href="#g101" x="666" y="176"/><use href="#g51" x="672" y="176"/><use href="#g41" x="678" y="176"/><use href="#g101" x="61" y="197"/><use href="#g115" x="67" y="197"/><use href="#g118" x="73" y="197"/><use href="#g50" x="79" y="197"/><use href="#g53" x="85" y="197"/><use href="#g49" x="91" y="197"/><use href="#g56" x="97" y="197"/><use href="#g51" x="103" y="197"/><use href="#g52" x="109" y="197"/><use href="#g51" x="115" y="197"/><use href="#g40" x="127" y="197"/><use href="#g77" x="133" y="197"/><use href="#g99" x="139" y="197"/><use href="#g75" x="145" y="197"/><use href="#g101" x="151" y="197"/><use href="#g114" x="157" y="197"/><use href="#g110" x="163" y="197"/><use href="#g97" x="169" y="197"/><use href="#g110" x="175" y="197"/><use href="#g50" x="181" y="197"/><use href="#g48" x="187" y="197"/><use href="#g48" x="193" y="197"/><use href="#g57" x="199" y="197"/><use href="#g41" x="205" y="197"/><use href="#g101" x="61" y="218"/><use href="#g115" x="67" y="218"/><use href="#g118" x="73" y="218"/><use href="#g50" x="79" y="218"/><use href="#g55" x="85" y="218"/><use href="#g51" x="91" y="218"/><use href="#g50" x="97" y="218"/><use href="#g56" x="103" y="218"/><use href="#g51" x="109" y="218"/><use href="#g57" x="115" y="218"/><use href="#g40" x="127" y="218"/><use href="#g87" x="133" y="218"/><use href="#g111" x="139" y="218"/><use href="#g110" x="145" y="218"/><use href="#g103" x="151" y="218"/><use href="#g50" x="157" y="218"/><use href="#g48" x="163" y="218"/><use href="#g49" x="169" y="218"/><use href="#g50" x="175" y="218"/><use href="#g98" x="181" y="218"/><use href="#g41" x="187" y="218"/><use href="#g110" x="118" y="239"/><use href="#g115" x="124" y="239"/><use href="#g118" x="130" y="239"/><use href="#g54" x="136" y="239"/><use href="#g54" x="142" y="239"/><use href="#g48" x="148" y="239"/><use href="#g53" x="154" y="239"/><use href="#g49" x="160" y="239"/><use href="#g56" x="166" y="239"/><use href="#g57" x="172" y="239"/><use href="#g40" x="184" y="239"/><use href="#g83" x="190" y="239"/><use href="#g101" x="196" y="239"/><use href="#g100" x="202" y="239"/><use href="#g108" x="208" y="239"/><use href="#g97" x="214" y="239"/><use href="#g122" x="220" y="239"/><use href="#g101" x="226" y="239"/><use href="#g99" x="232" y="239"/><use href="#g107" x="238" y="239"/><use href="#g50" x="244" y="239"/><use href="#g48" x="250" y="239"/><use href="#g50" x="256" y="239"/><use href="#g48" x="262" y="239"/><use href="#g41" x="268" y="239"/><use href="#g110" x="169" y="260"/><use href="#g115" x="175" y="260"/><use href="#g118" x="181" y="260"/><use href="#g52" x="187" y="260"/><use href="#g49" x="193" y="260"/><use href="#g53" x="199" y="260"/><use href="#g48" x="205" y="260"/><use href="#g49" x="211" y="260"/><use href="#g53" x="217" y="260"/><use href="#g52" x="223" y="260"/><use href="#g40" x="235" y="260"/><use href="#g103" x="241" y="260"/><use href="#g110" x="247" y="260"/><use href="#g111" x="253" y="260"/><use href="#g109" x="259" y="260"/><use href="#g65" x="265" y="260"/><use href="#g68" x="271" y="260"/><use href="#g83" x="277" y="260"/><use href="#g116" x="283" y="260"/><use href="#g114" x="289" y="260"/><use href="#g117" x="295" y="260"/><use href="#g99" x="301" y="260"/><use href="#g116" x="307" y="260"/><use href="#g117" x="313" y="260"/><use href="#g114" x="319" y="260"/><use href="#g97" x="325" y="260"/><use href="#g108" x="331" y="260"/><use href="#g86" x="337" y="260"/><use href="#g97" x="343" y="260"/><use href="#g114" x="349" y="260"/><use href="#g105" x="355" y="260"/><use href="#g97" x="361" y="260"/><use href="#g110" x="367" y="260"/><use href="#g116" x="373" y="260"/><use href="#g115" x="379" y="260"/><use href="#g41" x="385" y="260"/><use href="#g110" x="210" y="281"/><use href="#g115" x="216" y="281"/><use href="#g118" x="222" y="281"/><use href="#g49" x="228" y="281"/><use href="#g49" x="234" y="281"/><use href="#g49" x="240" y="281"/><use href="#g56" x="246" y="281"/><use href="#g48" x="252" y="281"/><use href="#g48" x="258" y="281"/><use href="#g49" x="264" y="281"/><use href="#g40" x="276" y="281"/><use href="#g65" x="282" y="281"/><use href="#g108" x="288" y="281"/><use href="#g115" x="294" y="281"/><use href="#g109" x="300" y="281"/><use href="#g97" x="306" y="281"/><use href="#g100" x="312" y="281"/><use href="#g105" x="318" y="281"/><use href="#g50" x="324" y="281"/><use href="#g48" x="330" y="281"/><use href="#g49" x="336" y="281"/><use href="#g52" x="342" y="281"/><use href="#g41" x="348" y="281"/><use href="#g110" x="227" y="302"/><use href="#g115" x="233" y="302"/><use href="#g118" x="239" y="302"/><use href="#g49" x="245" y="302"/><use href="#g49" x="251" y="302"/><use href="#g53" x="257" y="302"/><use href="#g54" x="263" y="302"/><use href="#g53" x="269" y="302"/><use href="#g57" x="275" y="302"/><use href="#g51" x="281" y="302"/><use href="#g40" x="293" y="302"/><use href="#g76" x="299" y="302"/><use href="#g111" x="305" y="302"/><use href="#g117" x="311" y="302"/><use href="#g50" x="317" y="302"/><use href="#g48" x="323" y="302"/><use href="#g49" x="329" y="302"/><use href="#g52" x="335" y="302"/><use href="#g41" x="341" y="302"/><use href="#g110" x="454" y="323"/><use href="#g115" x="460" y="323"/><use href="#g118" x="466" y="323"/><use href="#g51" x="472" y="323"/><use href="#g53" x="478" y="323"/><use href="#g50" x="484" y="323"/><use href="#g55" x="490" y="323"/><use href="#g49" x="496" y="323"/><use href="#g49" x="502" y="323"/><use href="#g54" x="508" y="323"/><use href="#g40" x="520" y="323"/><use href="#g67" x="526" y="323"/><use href="#g104" x="532" y="323"/><use href="#g97" x="538" y="323"/><use href="#g105" x="544" y="323"/><use href="#g115" x="550" y="323"/><use href="#g115" x="556" y="323"/><use href="#g111" x="562" y="323"/><use href="#g110" x="568" y="323"/><use href="#g50" x="574" y="323"/><use href="#g48" x="580" y="323"/><use href="#g49" x="586" y="323"/><use href="#g57" x="592" y="323"/><use href="#g41" x="598" y="323"/><use href="#g100" x="454" y="344"/><use href="#g103" x="460" y="344"/><use href="#g118" x="466" y="344"/><use href="#g54" x="472" y="344"/><use href="#g52" x="478" y="344"/><use href="#g52" x="484" y="344"/><use href="#g54" x="490" y="344"/><use href="#g110" x="496" y="344"/><use href="#g50" x="502" y="344"/><use href="#g50" x="508" y="344"/><use href="#g51" x="514" y="344"/><use href="#g40" x="526" y="344"/><use href="#g83" x="532" y="344"/><use href="#g101" x="538" y="344"/><use href="#g100" x="544" y="344"/><use href="#g108" x="550" y="344"/><use href="#g97" x="556" y="344"/><use href="#g122" x="562" y="344"/><use href="#g101" x="568" y="344"/><use href="#g99" x="574" y="344"/><use href="#g107" x="580" y="344"/><use href="#g50" x="586" y="344"/><use href="#g48" x="592" y="344"/><use href="#g50" x="598" y="344"/><use href="#g48" x="604" y="344"/><use href="#g41" x="610" y="344"/><use href="#g100" x="466" y="365"/><use href="#g103" x="472" y="365"/><use href="#g118" x="478" y="365"/><use href="#g49" x="484" y="365"/><use href="#g48" x="490" y="365"/><use href="#g50" x="496" y="365"/><use href="#g50" x="502" y="365"/><use href="#g101" x="508" y="365"/><use href="#g50" x="514" y="365"/><use href="#g48" x="520" y="365"/><use href="#g49" x="526" y="365"/><use href="#g40" x="538" y="365"/><use href="#g87" x="544" y="365"/><use href="#g111" x="550" y="365"/><use href="#g110" x="556" y="365"/><use href="#g103" x="562" y="365"/><use href="#g50" x="568" y="365"/><use href="#g48" x="574" y="365"/><use href="#g49" x="580" y="365"/><use href="#g50" x="586" y="365"/><use href="#g98" x="592" y="365"/><use href="#g41" x="598" y="365"/><use href="#g110" x="504" y="386"/><use href="#g115" x="510" y="386"/><use href="#g118" x="516" y="386"/><use href="#g53" x="522" y="386"/><use href="#g52" x="528" y="386"/><use href="#g53" x="534" y="386"/><use href="#g52" x="540" y="386"/><use href="#g50" x="546" y="386"/><use href="#g48" x="552" y="386"/><use href="#g56" x="558" y="386"/><use href="#g40" x="570" y="386"/><use href="#g66" x="576" y="386"/><use href="#g121" x="582" y="386"/><use href="#g114" x="588" y="386"/><use href="#g115" x="594" y="386"/><use href="#g107" x="600" y="386"/><use href="#g97" x="606" y="386"/><use href="#g66" x="612" y="386"/><use href="#g105" x="618" y="386"/><use href="#g115" x="624" y="386"/><use href="#g104" x="630" y="386"/><use href="#g111" x="636" y="386"/><use href="#g112" x="642" y="386"/><use href="#g50" x="648" y="386"/><use href="#g48" x="654" y="386"/><use href="#g50" x="660" y="386"/><use href="#g50" x="666" y="386"/><use href="#g41" x="672" y="386"/><use href="#g110" x="519" y="407"/><use href="#g115" x="525" y="407"/><use href="#g118" x="531" y="407"/><use href="#g52" x="537" y="407"/><use href="#g49" x="543" y="407"/><use href="#g51" x="549" y="407"/><use href="#g52" x="555" y="407"/><use href="#g57" x="561" y="407"/><use href="#g51" x="567" y="407"/><use href="#g52" x="573" y="407"/><use href="#g40" x="585" y="407"/><use href="#g103" x="591" y="407"/><use href="#g110" x="597" y="407"/><use href="#g111" x="603" y="407"/><use href="#g109" x="609" y="407"/><use href="#g65" x="615" y="407"/><use href="#g68" x="621" y="407"/><use href="#g83" x="627" y="407"/><use href="#g116" x="633" y="407"/><use href="#g114" x="639" y="407"/><use href="#g117" x="645" y="407"/><use href="#g99" x="651" y="407"/><use href="#g116" x="657" y="407"/><use href="#g117" x="663" y="407"/><use href="#g114" x="669" y="407"/><use href="#g97" x="675" y="407"/><use href="#g108" x="681" y="407"/><use href="#g86" x="687" y="407"/><use href="#g97" x="693" y="407"/><use href="#g114" x="699" y="407"/><use href="#g105" x="705" y="407"/><use href="#g97" x="711" y="407"/><use href="#g110" x="717" y="407"/><use href="#g116" x="723" y="407"/><use href="#g115" x="729" y="407"/><use href="#g41" x="735" y="407"/><use href="#b82" x="60" y="463"/><use href="#b101" x="67" y="463"/><use href="#b102" x="74" y="463"/><use href="#b83" x="81" y="463"/><use href="#b101" x="88" y="463"/><use href="#b113" x="95" y="463"/><use href="#b71" x="109" y="463"/><use href="#b101" x="116" y="463"/><use href="#b110" x="123" y="463"/><use href="#b101" x="130" y="463"/><use href="#b115" x="137" y="463"/><use href="#g65" x="61" y="475"/><use href="#g68" x="67" y="475"/><use href="#g71" x="73" y="475"/><use href="#g66" x="79" y="475"/><use href="#g124" x="85" y="475"/><use href="#g78" x="91" y="475"/><use href="#g77" x="97" y="475"/><use href="#g95" x="103" y="475"/><use href="#g48" x="109" y="475"/><use href="#g50" x="115" y="475"/><use href="#g52" x="121" y="475"/><use href="#g54" x="127" y="475"/><use href="#g57" x="133" y="475"/><use href="#g52" x="139" y="475"/></g>
<g class="txt" aria-hidden="false">
<text class="h" lengthAdjust="spacingAndGlyphs" x="61" y="25" textLength="150">chr6:146808908..146815902</text>
<text class="h" lengthAdjust="spacingAndGlyphs" x="50" y="44" textLength="42">146809k</text>
<text class="h" lengthAdjust="spacingAndGlyphs" x="164" y="44" textLength="42">146810k</text>
<text class="h" lengthAdjust="spacingAndGlyphs" x="278" y="44" textLength="42">146811k</text>
<text class="h" lengthAdjust="spacingAndGlyphs" x="393" y="44" textLength="42">146812k</text>
<text class="h" lengthAdjust="spacingAndGlyphs" x="507" y="44" textLength="42">146813k</text>
<text class="h" lengthAdjust="spacingAndGlyphs" x="621" y="44" textLength="42">146814k</text>
<text class="h" lengthAdjust="spacingAndGlyphs" x="736" y="44" textLength="42">146815k</text>
<text class="h b" lengthAdjust="spacingAndGlyphs" x="60" y="78" textLength="119">Cytogenetic Bands</text>
<text class="h" lengthAdjust="spacingAndGlyphs" x="61" y="90" textLength="36">6q24.3</text>
<text class="h b" lengthAdjust="spacingAndGlyphs" x="60" y="132" textLength="161">DGV Structural Variants</text>
<text class="h" lengthAdjust="spacingAndGlyphs" x="61" y="144" textLength="120">nsv830838 (Wong2007)</text>
<text class="h" lengthAdjust="spacingAndGlyphs" x="61" y="165" textLength="174">nsv5455238 (ByrskaBishop2022)</text>
<text class="h" lengthAdjust="spacingAndGlyphs" x="61" y="186" textLength="222">nsv4146593 (gnomADStructuralVariants)</text>
<text class="h" lengthAdjust="spacingAndGlyphs" x="444" y="186" textLength="240">esv3611158 (1000GenomesConsortiumPhase3)</text>
<text class="h" lengthAdjust="spacingAndGlyphs" x="61" y="207" textLength="150">esv2518343 (McKernan2009)</text>
<text class="h" lengthAdjust="spacingAndGlyphs" x="61" y="228" textLength="132">esv2732839 (Wong2012b)</text>
<text class="h" lengthAdjust="spacingAndGlyphs" x="118" y="249" textLength="156">nsv6605189 (Sedlazeck2020)</text>
<text class="h" lengthAdjust="spacingAndGlyphs" x="169" y="270" textLength="222">nsv4150154 (gnomADStructuralVariants)</text>
<text class="h" lengthAdjust="spacingAndGlyphs" x="210" y="291" textLength="144">nsv1118001 (Alsmadi2014)</text>
<text class="h" lengthAdjust="spacingAndGlyphs" x="227" y="312" textLength="120">nsv1156593 (Lou2014)</text>
<text class="h" lengthAdjust="spacingAndGlyphs" x="454" y="333" textLength="150">nsv3527116 (Chaisson2019)</text>
<text class="h" lengthAdjust="spacingAndGlyphs" x="454" y="354" textLength="162">dgv6446n223 (Sedlazeck2020)</text>
<text class="h" lengthAdjust="spacingAndGlyphs" x="466" y="375" textLength="138">dgv1022e201 (Wong2012b)</text>
<text class="h" lengthAdjust="spacingAndGlyphs" x="504" y="396" textLength="174">nsv5454208 (ByrskaBishop2022)</text>
<text class="h" lengthAdjust="spacingAndGlyphs" x="519" y="417" textLength="222">nsv4134934 (gnomADStructuralVariants)</text>
<text class="h b" lengthAdjust="spacingAndGlyphs" x="60" y="473" textLength="84">RefSeq Genes</text>
<text class="h" lengthAdjust="spacingAndGlyphs" x="61" y="485" textLength="84">ADGB|NM_024694</text>
</g>
</svg></body></html>
